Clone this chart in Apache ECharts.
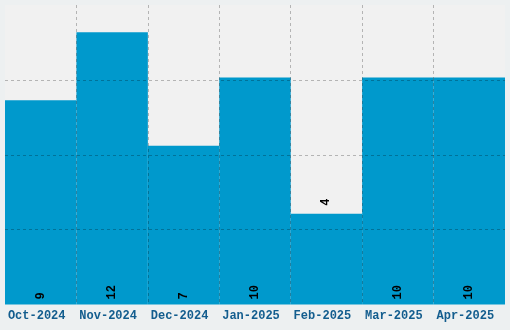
<!DOCTYPE html>
<html><head><meta charset="utf-8">
<script src="https://cdn.jsdelivr.net/npm/echarts@6/dist/echarts.min.js"></script>
<style>html,body{margin:0;padding:0;background:#edf0f1;}#c{width:510px;height:330px;}</style>
</head><body><div id="c"></div>
<script>
var categories = ['Oct-2024','Nov-2024','Dec-2024','Jan-2025','Feb-2025','Mar-2025','Apr-2025'];
var values = [9, 12, 7, 10, 4, 10, 10];
var outsideLabelIndex = [4];

var chart = echarts.init(document.getElementById('c'), null, {renderer:'canvas'});
var font = "'Liberation Mono', 'DejaVu Sans Mono', monospace";
var gridLine = {show:true, lineStyle:{color:'rgba(0,0,0,0.25)', type:[3,3], width:1}};
chart.setOption({
  animation:false,
  backgroundColor:'#edf0f1',
  grid:{left:5, right:5, top:5, bottom:25.5, show:true, backgroundColor:'#f1f1f1', borderWidth:0},
  xAxis:{type:'category', data:categories, z:10,
    axisLine:{show:false}, axisTick:{show:false},
    axisLabel:{fontFamily:font, fontWeight:'bold', fontSize:12, color:'#135d8e', margin:5, interval:0, padding:[0,8,0,0]},
    splitLine:Object.assign({interval:0, showMinLine:false, showMaxLine:false}, gridLine)},
  yAxis:{type:'value', min:0, max:13.2, interval:3.3, z:10,
    axisLine:{show:false}, axisTick:{show:false}, axisLabel:{show:false},
    splitLine:Object.assign({showMinLine:false, showMaxLine:false}, gridLine)},
  series:[{type:'bar', barCategoryGap:'0%', barWidth:'100%',
    itemStyle:{color:'#0099cc'},
    label:{show:true, position:'insideBottom', distance:5, rotate:90, align:'left', verticalAlign:'middle',
      fontFamily:font, fontWeight:'bold', fontSize:12, color:'#000'},
    data:values.map(function(v,i){
      var d = {value:v};
      if (outsideLabelIndex.indexOf(i) >= 0) d.label = {position:'top', distance:8};
      return d;
    })
  }]
});
</script></body></html>
